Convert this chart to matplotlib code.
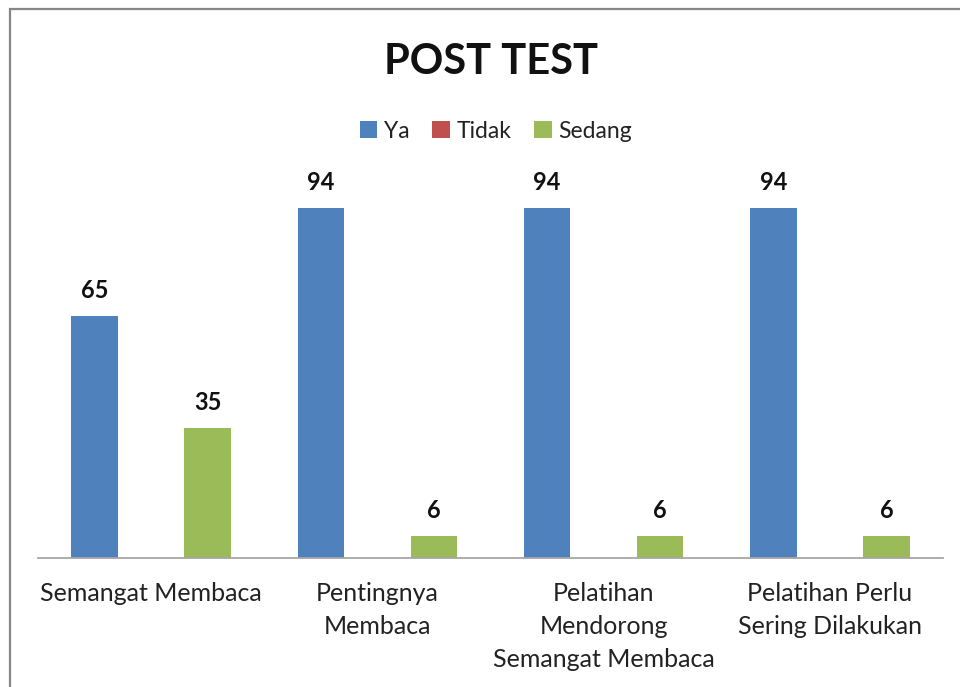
import matplotlib
matplotlib.use("Agg")
import matplotlib.pyplot as plt
from matplotlib.patches import Rectangle
import numpy as np

categories = ["Semangat Membaca", "Pentingnya\nMembaca", "Pelatihan\nMendorong\nSemangat Membaca",
              "Pelatihan Perlu\nSering Dilakukan"]
series_names = ["Ya", "Tidak", "Sedang"]
ya = [65, 94, 94, 94]
tidak = [0, 0, 0, 0]
sedang = [35, 6, 6, 6]
colors = ["#4F81BD", "#C0504D", "#9BBB59"]

plt.rcParams['font.family'] = ['Lato', 'DejaVu Sans']

fig = plt.figure(figsize=(9.6, 6.87), dpi=100)
W, H = 960, 687
# chart frame
fig.patches.append(Rectangle((10 / W, -0.1), 1.2, (H - 9) / H + 0.1, transform=fig.transFigure,
                             fill=False, edgecolor="#868686", linewidth=1.6))

ax = fig.add_axes([38 / W, (H - 558) / H, 905 / W, 372 / H])
x = np.arange(len(categories))
width = 0.205
offsets = [-0.25, 0.0, 0.25]
for vals, name, col, off in zip([ya, tidak, sedang], series_names, colors, offsets):
    bars = ax.bar(x + off, vals, width, color=col, label=name)
    for b, v in zip(bars, vals):
        if v > 0:
            ax.annotate(f"{v}", (b.get_x() + b.get_width() / 2, v), xytext=(0, 13),
                        textcoords="offset points", ha="center", va="baseline",
                        fontsize=17, fontweight="bold", color="#111111")

ax.set_xlim(-0.5, len(categories) - 0.5)
ax.set_ylim(0, 100)
for s in ["top", "right", "left"]:
    ax.spines[s].set_visible(False)
ax.spines["bottom"].set_color("#A6A6A6")
ax.spines["bottom"].set_linewidth(1.3)
ax.set_yticks([])
ax.set_xticks(x)
ax.set_xticklabels(categories, fontsize=18, color="#222222", linespacing=1.53)
ax.tick_params(axis="x", length=0, pad=17)

fig.text(491 / W, 1 - 62 / H, "POST TEST", ha="center", va="center", fontsize=30,
         fontweight="bold", color="#111111")
leg = fig.legend(loc="center", bbox_to_anchor=(496 / W, 1 - 131 / H), ncol=3, frameon=False,
                 fontsize=16.5, handlelength=0.75, handleheight=0.75, handletextpad=0.3,
                 columnspacing=1.0, labelcolor="#222222")

fig.savefig("out.png", dpi=100)
